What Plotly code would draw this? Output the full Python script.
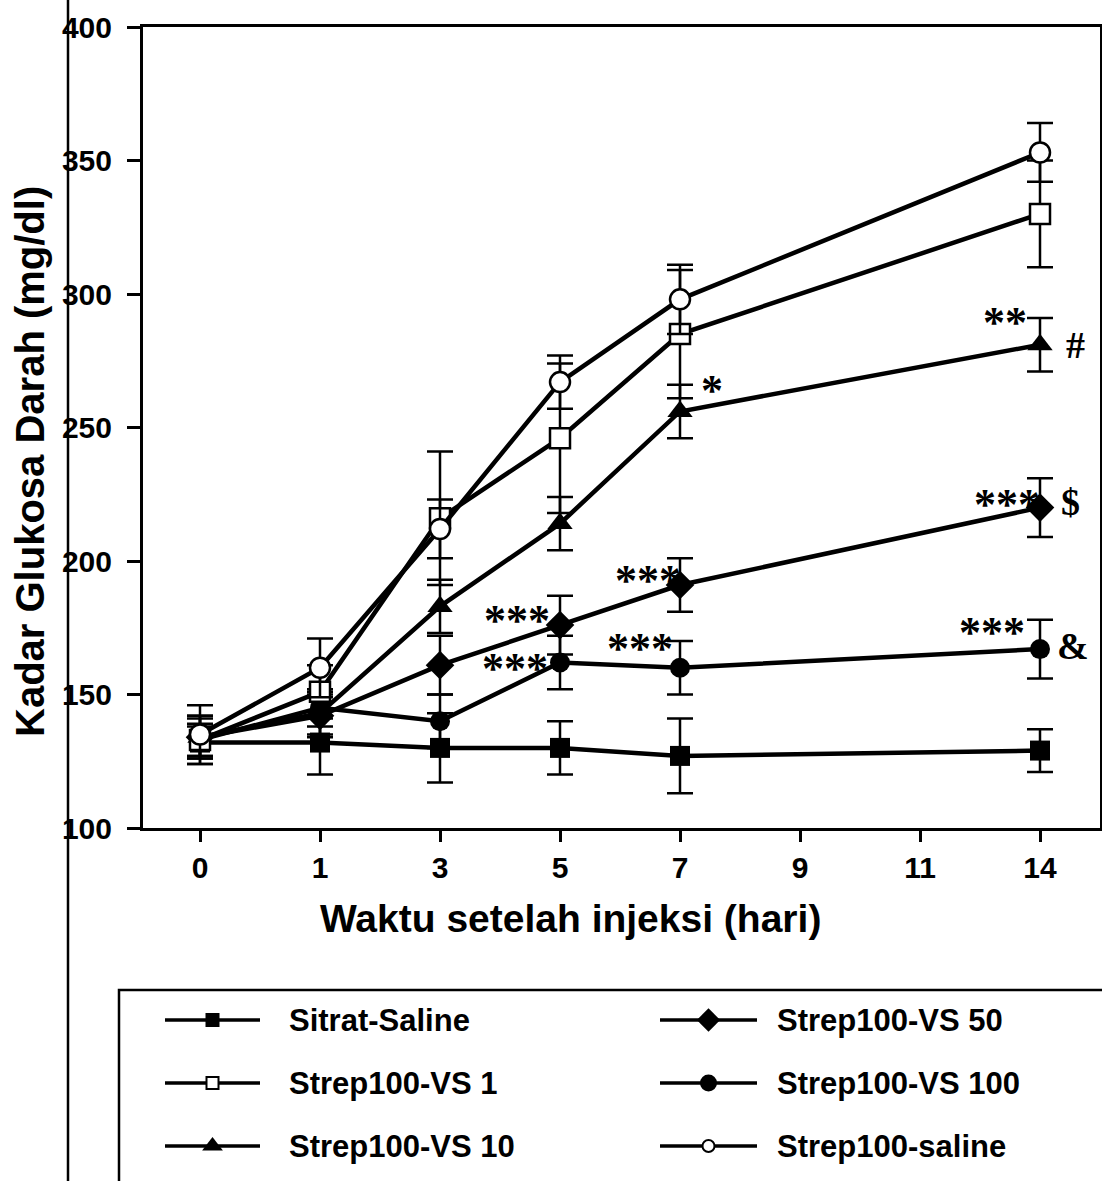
import plotly.graph_objects as go

# ---------------- data ----------------
tick_labels = ["0", "1", "3", "5", "7", "9", "11", "14"]
days = ["0", "1", "3", "5", "7", "14"]

sitrat = [132, 132, 130, 130, 127, 129]
sitrat_err = [6, 12, 13, 10, 14, 8]
vs1 = [133, 151, 216, 246, 285, 330]
vs1_err = [9, 10, 25, 28, 24, 20]
vs10 = [134, 143, 183, 214, 256, 281]
vs10_err = [8, 8, 10, 10, 10, 10]
vs50 = [134, 142, 161, 176, 191, 220]
vs50_err = [7, 8, 11, 11, 10, 11]
vs100 = [133, 145, 140, 162, 160, 167]
vs100_err = [6, 7, 10, 10, 10, 11]
saline = [135, 160, 212, 267, 298, 353]
saline_err = [11, 11, 11, 10, 13, 11]

names = ["Sitrat-Saline", "Strep100-VS 1", "Strep100-VS 10",
         "Strep100-VS 50", "Strep100-VS 100", "Strep100-saline"]

# significance marks: day, y value, text
sig_days = ["7", "14", "14", "14", "14", "14", "14", "7", "7", "5", "5"]
sig_y = [266.5, 292, 280.8, 223.8, 222, 175.8, 168, 195.3, 169.8, 180.3, 162.3]
sig_text = ["*", "**", "#", "***", "$", "***", "&", "***", "***", "***", "***"]

y_ticks = [100, 150, 200, 250, 300, 350, 400]

# ---------------- styles ----------------
W, H = 1102, 1181
BLACK = "black"
styles = {
    "Sitrat-Saline": dict(symbol="square", size=20, color=BLACK, lw=0, lsize=14),
    "Strep100-VS 1": dict(symbol="square", size=20, color="white", lw=2.5, lsize=12),
    "Strep100-VS 10": dict(symbol="triangle-up", size=22, color=BLACK, lw=0, lsize=18),
    "Strep100-VS 50": dict(symbol="diamond", size=22, color=BLACK, lw=0, lsize=18),
    "Strep100-VS 100": dict(symbol="circle", size=20, color=BLACK, lw=0, lsize=17),
    "Strep100-saline": dict(symbol="circle", size=20, color="white", lw=2.5, lsize=12),
}
values = {
    "Sitrat-Saline": (sitrat, sitrat_err),
    "Strep100-VS 1": (vs1, vs1_err),
    "Strep100-VS 10": (vs10, vs10_err),
    "Strep100-VS 50": (vs50, vs50_err),
    "Strep100-VS 100": (vs100, vs100_err),
    "Strep100-saline": (saline, saline_err),
}
draw_order = ["Sitrat-Saline", "Strep100-VS 100", "Strep100-VS 50",
              "Strep100-VS 10", "Strep100-VS 1", "Strep100-saline"]

fig = go.Figure()
for nm in draw_order:
    yv, ev = values[nm]
    st = styles[nm]
    fig.add_trace(go.Scatter(
        x=days, y=yv, name=nm, mode="lines+markers",
        line=dict(color=BLACK, width=4.5),
        marker=dict(symbol=st["symbol"], size=st["size"], color=st["color"],
                    line=dict(color=BLACK, width=st["lw"])),
        error_y=dict(type="data", array=ev, visible=True, color=BLACK,
                     thickness=2.5, width=13),
        showlegend=False, xaxis="x", yaxis="y", cliponaxis=False,
    ))

# ---------------- manual legend (overlay pixel axes) ----------------
leg_rows = [1020, 1083, 1146]
leg_cols = [(165, 260, 287), (660, 757, 775)]
leg_layout = [["Sitrat-Saline", "Strep100-VS 1", "Strep100-VS 10"],
              ["Strep100-VS 50", "Strep100-VS 100", "Strep100-saline"]]
annotations = []
for ci, col in enumerate(leg_layout):
    x0, x1, xt = leg_cols[ci]
    for ri, nm in enumerate(col):
        yy = leg_rows[ri]
        st = styles[nm]
        fig.add_trace(go.Scatter(
            x=[x0, x1], y=[yy, yy], mode="lines", line=dict(color=BLACK, width=3.5),
            showlegend=False, xaxis="x2", yaxis="y2", hoverinfo="skip"))
        fig.add_trace(go.Scatter(
            x=[(x0 + x1) / 2], y=[yy], mode="markers",
            marker=dict(symbol=st["symbol"], size=st["lsize"], color=st["color"],
                        line=dict(color=BLACK, width=min(st["lw"], 2))),
            showlegend=False, xaxis="x2", yaxis="y2", hoverinfo="skip"))
        annotations.append(dict(
            x=xt / W, y=1 - yy / H, xref="paper", yref="paper", text=nm,
            showarrow=False, xanchor="left", yanchor="middle",
            font=dict(family="Liberation Sans", size=31, color=BLACK, weight="bold")))

# significance annotations (x given as category index)
sig_shift = [32, -35, 35, -33, 30, -48, 33, -32, -40, -43, -45]
for d, yv, t, sh in zip(sig_days, sig_y, sig_text, sig_shift):
    is_star = t.startswith("*")
    annotations.append(dict(
        x=tick_labels.index(d), y=yv, xref="x", yref="y", text=t, showarrow=False,
        xshift=sh, yshift=-7 if is_star else 0, xanchor="center", yanchor="middle",
        font=dict(family="Liberation Serif", size=44 if is_star else 38,
                  color=BLACK, weight="bold")))

# axis titles
annotations.append(dict(
    x=570 / W, y=1 - 918 / H, xref="paper", yref="paper",
    text="Waktu setelah injeksi (hari)", showarrow=False,
    xanchor="center", yanchor="middle",
    font=dict(family="Liberation Sans", size=39, color=BLACK, weight="bold")))
annotations.append(dict(
    x=30 / W, y=1 - 462 / H, xref="paper", yref="paper",
    text="Kadar Glukosa Darah (mg/dl)", showarrow=False, textangle=-90,
    xanchor="center", yanchor="middle",
    font=dict(family="Liberation Sans", size=40, color=BLACK, weight="bold")))

shapes = [
    # legend box
    dict(type="rect", xref="paper", yref="paper", x0=119 / W, x1=1.02,
         y0=-0.02, y1=1 - 990 / H, line=dict(color=BLACK, width=2.5)),
    # scan edge line
    dict(type="line", xref="paper", yref="paper", x0=68 / W, x1=68 / W,
         y0=0, y1=1, line=dict(color=BLACK, width=2.5), layer="above"),
]

tickfont = dict(family="Liberation Sans", size=30, color=BLACK, weight="bold")
fig.update_layout(
    template="none",
    width=W, height=H, autosize=False,
    margin=dict(l=0, r=0, t=0, b=0, pad=0, autoexpand=False),
    paper_bgcolor="white", plot_bgcolor="rgba(0,0,0,0)",
    xaxis=dict(type="category", categoryorder="array", categoryarray=tick_labels,
               tickvals=tick_labels, ticktext=tick_labels,
               range=[-0.475, 7.5], domain=[143 / W, 1100 / W], automargin=False,
               showline=True, linecolor=BLACK, linewidth=3, mirror=True,
               ticks="outside", ticklen=11, tickwidth=2.5, tickcolor=BLACK,
               showgrid=False, zeroline=False, tickfont=tickfont, anchor="y"),
    yaxis=dict(range=[100, 400], domain=[1 - 828 / H, 1 - 27 / H],
               tickvals=y_ticks, automargin=False,
               showline=True, linecolor=BLACK, linewidth=3, mirror=True,
               ticks="outside", ticklen=13, tickwidth=2.5, tickcolor=BLACK,
               showgrid=False, zeroline=False, tickfont=tickfont, anchor="x",
               ticklabelstandoff=9),
    xaxis2=dict(domain=[0, 1], range=[0, W], visible=False, anchor="y2",
                fixedrange=True, automargin=False),
    yaxis2=dict(domain=[0, 1], range=[H, 0], visible=False, anchor="x2",
                fixedrange=True, automargin=False),
    annotations=annotations, shapes=shapes, showlegend=False,
)

fig.write_html("out.html", config={"displayModeBar": False},
               post_script="document.body.style.margin='0';"
                           "document.documentElement.style.overflow='hidden';")
